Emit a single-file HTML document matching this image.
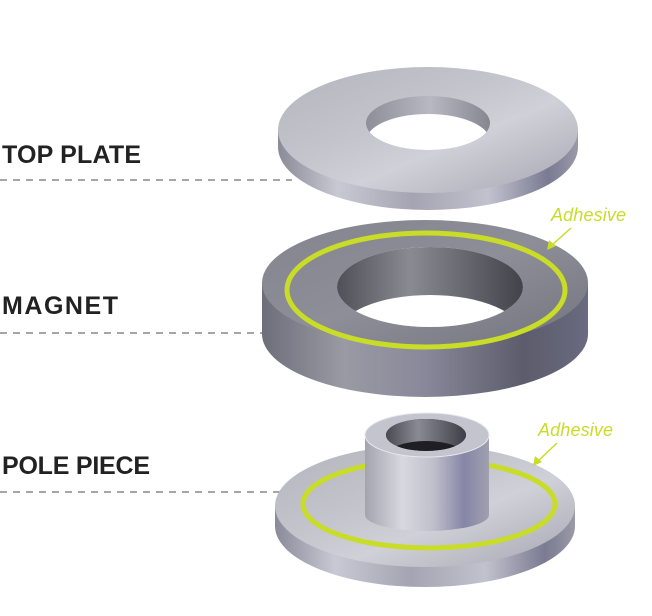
<!DOCTYPE html>
<html><head><meta charset="utf-8"><style>
html,body{margin:0;padding:0;background:#fff;}
svg{display:block}
</style></head><body>
<svg width="652" height="616" viewBox="0 0 652 616" xmlns="http://www.w3.org/2000/svg">
<defs>
<linearGradient id="side" x1="0" x2="1" y1="0" y2="0">
<stop offset="0" stop-color="#8a8a98"/><stop offset="0.2" stop-color="#c9c9d4"/><stop offset="0.45" stop-color="#a4a4b2"/><stop offset="0.7" stop-color="#c2c2ce"/><stop offset="0.9" stop-color="#7a7a92"/><stop offset="1" stop-color="#9a9aa8"/>
</linearGradient>
<linearGradient id="topg" x1="0" x2="1" y1="0" y2="1">
<stop offset="0" stop-color="#b4b4be"/><stop offset="0.4" stop-color="#c4c4cc"/><stop offset="0.6" stop-color="#d0d0d8"/><stop offset="1" stop-color="#a6a6b2"/>
</linearGradient>
<linearGradient id="magside" x1="0" x2="1" y1="0" y2="0">
<stop offset="0" stop-color="#6e6e7a"/><stop offset="0.25" stop-color="#9a9aa4"/><stop offset="0.5" stop-color="#88889a"/><stop offset="0.8" stop-color="#5c5c6c"/><stop offset="1" stop-color="#6a6a80"/>
</linearGradient>
<linearGradient id="magtop" x1="0" x2="1" y1="0" y2="1">
<stop offset="0" stop-color="#84848e"/><stop offset="0.5" stop-color="#8e8e98"/><stop offset="1" stop-color="#74747e"/>
</linearGradient>
<linearGradient id="bore" x1="0" x2="1" y1="0" y2="0">
<stop offset="0" stop-color="#4a4a52"/><stop offset="0.4" stop-color="#8a8a92"/><stop offset="1" stop-color="#3e3e46"/>
</linearGradient>
<linearGradient id="hole1" x1="0" x2="1" y1="0" y2="0">
<stop offset="0" stop-color="#8a8a94"/><stop offset="0.5" stop-color="#b8b8c2"/><stop offset="1" stop-color="#7e7e88"/>
</linearGradient>
<linearGradient id="cyl" x1="0" x2="1" y1="0" y2="0">
<stop offset="0" stop-color="#a4a4b0"/><stop offset="0.3" stop-color="#d8d8e0"/><stop offset="0.55" stop-color="#c0c0cc"/><stop offset="0.8" stop-color="#8686a6"/><stop offset="1" stop-color="#a0a0b0"/>
</linearGradient>
<clipPath id="h1"><ellipse cx="428" cy="123" rx="62" ry="27"/></clipPath>
<clipPath id="h2"><ellipse cx="430" cy="287" rx="93" ry="40"/></clipPath>
<clipPath id="h3"><ellipse cx="426" cy="435" rx="40" ry="16"/></clipPath>
</defs>

<!-- labels -->
<g font-family="Liberation Sans, sans-serif" font-weight="bold" font-size="25" fill="#222">
<text x="2" y="163" textLength="139">TOP PLATE</text>
<text x="2" y="314" textLength="116">MAGNET</text>
<text x="2" y="474" textLength="148">POLE PIECE</text>
</g>
<g stroke="#888" stroke-width="1.5" stroke-dasharray="7,6">
<line x1="0" y1="180" x2="292" y2="180"/>
<line x1="0" y1="333" x2="292" y2="333"/>
<line x1="0" y1="492" x2="292" y2="492"/>
</g>

<!-- top plate -->
<path d="M278 130 L278 147 A150 63 0 0 0 578 147 L578 130 Z" fill="url(#side)"/>
<ellipse cx="428" cy="130" rx="150" ry="63" fill="url(#topg)"/>
<g clip-path="url(#h1)"><rect x="360" y="90" width="140" height="70" fill="url(#hole1)"/><ellipse cx="428" cy="141" rx="62" ry="27" fill="#fff"/></g>

<!-- magnet -->
<path d="M262 283 L262 334 A163 63 0 0 0 588 334 L588 283 Z" fill="url(#magside)"/>
<ellipse cx="425" cy="283" rx="163" ry="63" fill="url(#magtop)"/>
<ellipse cx="430" cy="287" rx="93" ry="40" fill="#fff"/>
<g clip-path="url(#h2)"><rect x="330" y="240" width="200" height="100" fill="url(#bore)"/><ellipse cx="430" cy="335" rx="93" ry="40" fill="#fff"/></g>
<ellipse cx="426" cy="290" rx="139" ry="57" fill="none" stroke="#c8dc28" stroke-width="5"/>

<!-- pole piece -->
<path d="M275 506 L275 526 A150 61 0 0 0 575 526 L575 506 Z" fill="url(#side)"/>
<ellipse cx="425" cy="506" rx="150" ry="61" fill="url(#topg)"/>
<ellipse cx="429" cy="504" rx="126" ry="44" fill="none" stroke="#c8dc28" stroke-width="5"/>
<path d="M365 435 L365 515 A62 16 0 0 0 489 515 L489 435 Z" fill="url(#cyl)"/>
<ellipse cx="427" cy="435" rx="62" ry="22" fill="#c4c4ce" stroke="#e8e8f0" stroke-width="1"/>
<ellipse cx="426" cy="435" rx="40" ry="16" fill="#2a2a30"/>
<g clip-path="url(#h3)"><rect x="386" y="418" width="80" height="34" fill="url(#bore)"/><ellipse cx="426" cy="455" rx="38" ry="14" fill="#1e1e24"/></g>

<!-- adhesive -->
<g font-family="Liberation Sans, sans-serif" font-style="italic" font-size="18" fill="#c8dc28">
<text x="551" y="221" textLength="75">Adhesive</text>
<text x="538" y="436" textLength="75">Adhesive</text>
</g>
<g stroke="#c8dc28" stroke-width="1.5" fill="#c8dc28">
<line x1="571" y1="228" x2="552" y2="245"/>
<path d="M547 250 L549 240 L556 246 Z" stroke="none"/>
<line x1="557" y1="443" x2="538" y2="461"/>
<path d="M533 466 L535 456 L542 462 Z" stroke="none"/>
</g>
</svg>
</body></html>
